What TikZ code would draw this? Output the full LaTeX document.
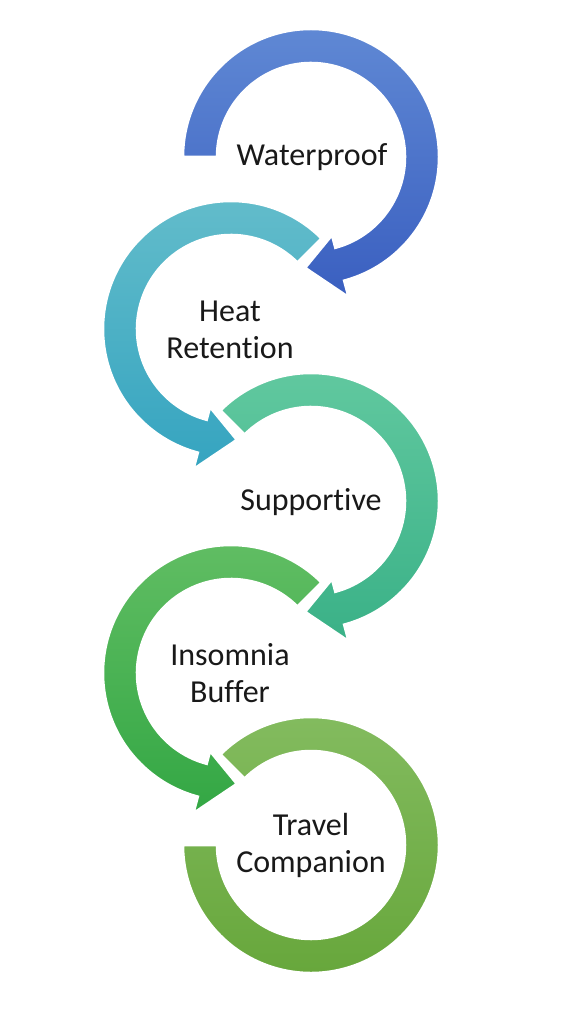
\documentclass[tikz,border=0pt]{standalone}
\usepackage{fontspec}
\setmainfont{Carlito}[Ligatures=NoCommon]
\usepackage{xcolor}
\usetikzlibrary{positioning}

\definecolor{ringA1}{HTML}{5F88D4}
\definecolor{ringA2}{HTML}{3A5FC0}
\definecolor{ringB1}{HTML}{64BDCB}
\definecolor{ringB2}{HTML}{35A4C0}
\definecolor{ringC1}{HTML}{62C9A0}
\definecolor{ringC2}{HTML}{3AB187}
\definecolor{ringD1}{HTML}{62BE64}
\definecolor{ringD2}{HTML}{33A744}
\definecolor{ringE1}{HTML}{84BC60}
\definecolor{ringE2}{HTML}{66A63A}

\tikzset{
  ring/.style={draw=white, line width=2.5, line join=miter},
  label/.style={align=center, text=black!90, font=\fontsize{32}{37}\selectfont}
}

\begin{document}
\begin{tikzpicture}[x=1pt, y=1pt]
  \useasboundingbox[fill=white] (0,0) rectangle (576,-1024);

  % Travel Companion (open ring, no head)
  \begin{scope}[shift={(311,-845)}]
    \shadedraw[ring, top color=ringE1, bottom color=ringE2]
      (135:128) arc[start angle=135, end angle=-180, radius=128]
      -- (180:94) arc[start angle=-180, end angle=135, radius=94] -- cycle;
  \end{scope}

  % Insomnia Buffer
  \begin{scope}[shift={(231,-673)}]
    \shadedraw[ring, top color=ringD1, bottom color=ringD2]
      (45:128) arc[start angle=45, end angle=255, radius=128]
      -- (255:145) -- (273:111) -- (255:81)
      -- (255:94) arc[start angle=255, end angle=45, radius=94] -- cycle;
  \end{scope}

  % Supportive
  \begin{scope}[shift={(311,-501)}]
    \shadedraw[ring, top color=ringC1, bottom color=ringC2]
      (135:128) arc[start angle=135, end angle=-75, radius=128]
      -- (-75:145) -- (-93:111) -- (-75:81)
      -- (-75:94) arc[start angle=-75, end angle=135, radius=94] -- cycle;
  \end{scope}

  % Heat Retention
  \begin{scope}[shift={(231,-329)}]
    \shadedraw[ring, top color=ringB1, bottom color=ringB2]
      (45:128) arc[start angle=45, end angle=255, radius=128]
      -- (255:145) -- (273:111) -- (255:81)
      -- (255:94) arc[start angle=255, end angle=45, radius=94] -- cycle;
  \end{scope}

  % Waterproof
  \begin{scope}[shift={(311,-157)}]
    \shadedraw[ring, top color=ringA1, bottom color=ringA2]
      (180:128) arc[start angle=180, end angle=-75, radius=128]
      -- (-75:145) -- (-93:111) -- (-75:81)
      -- (-75:94) arc[start angle=-75, end angle=180, radius=94] -- cycle;
  \end{scope}

  % labels
  \node[label] (waterproof) at (312,-157) {Waterproof};
  \node[label] (heat) at (230,-330) {Heat\\Retention};
  \node[label] (supportive) at (311,-502) {Supportive};
  \node[label] (insomnia) at (230,-673) {Insomnia\\Buffer};
  \node[label] (travel) at (311,-845) {Travel\\Companion};
\end{tikzpicture}
\end{document}
